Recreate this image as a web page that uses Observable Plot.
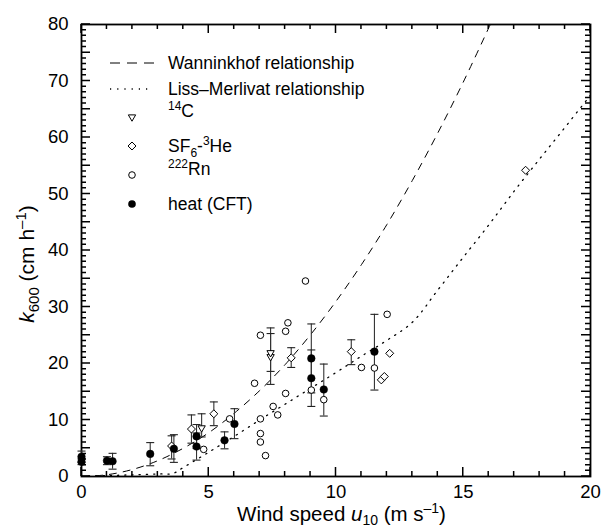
<!DOCTYPE html>
<html>
<head>
<meta charset="utf-8">
<script src="https://cdn.jsdelivr.net/npm/d3@7"></script>
<script src="https://cdn.jsdelivr.net/npm/@observablehq/plot@0.6"></script>
<style>
  html, body { margin: 0; padding: 0; background: #fff; }
  #chart svg { display: block; }
</style>
</head>
<body>
<div id="chart"></div>
<script>
// ---- Relationship curves ----
const wannWind = [0, 1, 2, 3, 4, 5, 6, 7, 8, 9, 10, 11, 12, 13, 14, 15, 16, 16.3];
const wannK    = [0, 0.31, 1.24, 2.8, 5.0, 7.75, 11.2, 15.2, 19.8, 25.1, 31.0, 37.5, 44.6, 52.4, 60.8, 69.8, 79.4, 82.4];

const lmWind = [0, 1, 2, 3, 3.6, 4, 5, 6, 7, 8, 9, 10, 11, 12, 13, 14, 15, 16, 17, 18, 19, 20];
const lmK    = [0, 0.15, 0.3, 0.45, 0.55, 1.6, 4.3, 7.1, 10.0, 12.8, 15.6, 18.4, 21.3, 24.1, 27.3, 33.0, 38.8, 44.5, 50.5, 56.2, 61.8, 67.5];

// ---- heat (CFT): filled circles ----
const heatWind = [0, 0, 1.0, 1.22, 2.7, 3.63, 4.52, 4.52, 5.62, 6.01, 9.03, 9.03, 9.52, 11.51];
const heatK    = [3.5, 2.6, 2.8, 2.7, 4.0, 4.9, 7.1, 5.3, 6.4, 9.3, 20.9, 17.4, 15.4, 22.1];
const heatLo   = [2.5, 2.1, 2.1, 1.3, 1.9, 2.5, 5.0, 2.9, 4.9, 6.7, 14.8, 12.4, 10.7, 15.3];
const heatHi   = [4.5, 3.1, 3.5, 4.1, 6.0, 7.4, 9.2, 7.7, 7.9, 12.0, 27.0, 22.4, 19.9, 28.7];

// ---- 222Rn: open circles ----
const rnWind = [4.8, 5.82, 6.8, 7.03, 7.03, 7.03, 7.03, 7.23, 7.53, 7.71, 8.02, 8.02, 8.11, 8.8, 9.03, 9.52, 11.0, 11.51, 12.01];
const rnK    = [4.8, 10.2, 16.5, 25.0, 10.2, 7.6, 6.1, 3.7, 12.4, 10.9, 14.7, 25.7, 27.2, 34.6, 15.3, 13.6, 19.3, 19.2, 28.7];

// ---- 14C: open down-triangles ----
const c14Wind = [4.72, 7.43, 7.43];
const c14K    = [8.6, 21.2, 21.9];
const c14Lo   = [7.0, 16.3, 18.6];
const c14Hi   = [11.1, 26.3, 25.3];

// ---- SF6-3He: open diamonds ----
const sf6Wind = [3.54, 4.32, 5.2, 8.24, 10.6, 11.78, 11.9, 12.11, 17.45];
const sf6K    = [5.4, 8.4, 11.1, 21.0, 22.1, 17.1, 17.7, 21.8, 54.2];
const sf6Lo   = [3.1, 5.9, 9.0, 19.3, 19.8, null, null, null, null];
const sf6Hi   = [7.2, 10.9, 13.2, 22.8, 24.2, null, null, null, null];

// ---- axis ticks ----
const xTickLabels = [0, 5, 10, 15, 20];
const yTickLabels = [0, 10, 20, 30, 40, 50, 60, 70, 80];
const xMinorTicks = d3.range(0, 21, 1);
const yMinorTicks = d3.range(0, 81, 1);
const xMajorTicks = [0, 5, 10, 15, 20];
const yMajorTicks = d3.range(0, 81, 5);

// ---- build tables ----
const rec = (U, K, L, Hi) => U.map((u, i) => ({u, k: K[i], lo: L ? L[i] : null, hi: Hi ? Hi[i] : null}));
const wann = wannWind.map((u, i) => ({u, k: wannK[i]}));
const lm = lmWind.map((u, i) => ({u, k: lmK[i]}));
const heat = rec(heatWind, heatK, heatLo, heatHi);
const rn = rec(rnWind, rnK);
const c14 = rec(c14Wind, c14K, c14Lo, c14Hi);
const sf6 = rec(sf6Wind, sf6K, sf6Lo, sf6Hi);
const withErr = [...sf6, ...c14, ...heat].filter(d => d.lo != null);

const W = 605, H = 529, mL = 81, mR = 15, mT = 24, mB = 53;
const pw = W - mL - mR, ph = H - mT - mB;
const FONT = "'Liberation Sans', Arial, Helvetica, sans-serif";

// error-bar cap: horizontal segment
const capSymbol = {
  draw(ctx, size) {
    const r = Math.sqrt(size / Math.PI);
    ctx.moveTo(-r, 0); ctx.lineTo(r, 0);
  }
};

const plot = Plot.plot({
  width: W, height: H,
  marginLeft: mL, marginRight: mR, marginTop: mT, marginBottom: mB,
  style: {fontFamily: FONT, fontSize: "18.5px"},
  x: {domain: [0, 20]},
  y: {domain: [0, 80]},
  marks: [
    Plot.frame({stroke: "#000", strokeWidth: 1.8, fill: "none"}),
    Plot.axisX(xTickLabels, {anchor: "bottom", tickSize: 0, tickPadding: 8, label: null}),
    Plot.axisY(yTickLabels, {anchor: "left", tickSize: 0, tickPadding: 13, label: null}),
    // relationships
    Plot.line(wann, {x: "u", y: "k", stroke: "#000", strokeWidth: 1, strokeDasharray: "7,7", curve: "catmull-rom", clip: true}),
    Plot.line(lm, {x: "u", y: "k", stroke: "#000", strokeWidth: 1.3, strokeDasharray: "1.2,6", curve: "catmull-rom", clip: true}),
    // error bars
    Plot.ruleX(withErr, {x: "u", y1: "lo", y2: "hi", stroke: "#333", strokeWidth: 1.1}),
    Plot.dot(withErr, {x: "u", y: "lo", symbol: capSymbol, r: 4, fill: "none", stroke: "#222", strokeWidth: 1.1}),
    Plot.dot(withErr, {x: "u", y: "hi", symbol: capSymbol, r: 4, fill: "none", stroke: "#222", strokeWidth: 1.1}),
    // points
    Plot.dot(rn, {x: "u", y: "k", r: 3.3, fill: "#fff", stroke: "#000", strokeWidth: 1}),
    Plot.dot(sf6, {x: "u", y: "k", symbol: "diamond2", r: 3.6, fill: "#fff", stroke: "#000", strokeWidth: 1}),
    Plot.dot(c14, {x: "u", y: "k", symbol: "triangle2", rotate: 180, r: 3.5, fill: "#fff", stroke: "#000", strokeWidth: 1}),
    Plot.dot(heat, {x: "u", y: "k", r: 3.8, fill: "#000", stroke: "#000", strokeWidth: 0.5})
  ]
});

document.getElementById("chart").appendChild(plot);

const svg = d3.select(plot);

// ---- inward ticks on all four sides, one path, positioned with the plot's scales ----
let fx, fy;
try {
  const sx = plot.scale("x"), sy = plot.scale("y");
  fx = v => sx.apply(v); fy = v => sy.apply(v);
  if (!isFinite(fx(5)) || !isFinite(fy(5))) throw 0;
} catch (e) {
  const lx = d3.scaleLinear([0, 20], [mL, W - mR]), ly = d3.scaleLinear([0, 80], [H - mB, mT]);
  fx = lx; fy = ly;
}
const X0 = fx(0), X1 = fx(20), Y0 = fy(0), Y1 = fy(80);
let d = "";
xMinorTicks.forEach(v => {
  const L = xMajorTicks.includes(v) ? 9 : 5, px = fx(v);
  d += `M${px},${Y0}V${Y0 - L}M${px},${Y1}V${Y1 + L}`;
});
yMinorTicks.forEach(v => {
  const L = yMajorTicks.includes(v) ? 9 : 5, py = fy(v);
  d += `M${X0},${py}H${X0 + L}M${X1},${py}H${X1 - L}`;
});
svg.append("path").attr("d", d).attr("fill", "none").attr("stroke", "black").attr("stroke-width", 1.5);

// ---- axis titles and legend as real SVG text ----
// x title
const xt = svg.append("text")
  .attr("x", mL + pw / 2 + 6).attr("y", 521)
  .attr("text-anchor", "middle")
  .attr("font-family", FONT).attr("font-size", 20.5).attr("fill", "#000");
xt.append("tspan").text("Wind speed ");
xt.append("tspan").attr("font-style", "italic").text("u");
xt.append("tspan").attr("font-size", 14).attr("dy", 4).text("10");
xt.append("tspan").attr("dy", -4).text(" (m s");
xt.append("tspan").attr("font-size", 14).attr("dy", -8).text("\u20131");
xt.append("tspan").attr("dy", 8).text(")");

// y title
const yt = svg.append("text")
  .attr("transform", `translate(34, ${mT + ph / 2 + 14}) rotate(-90)`)
  .attr("text-anchor", "middle")
  .attr("font-family", FONT).attr("font-size", 21).attr("fill", "#000");
yt.append("tspan").attr("font-style", "italic").text("k");
yt.append("tspan").attr("font-size", 15).attr("dy", 5).text("600");
yt.append("tspan").attr("dy", -5).text(" (cm h");
yt.append("tspan").attr("font-size", 15).attr("dy", -8).text("\u20131");
yt.append("tspan").attr("dy", 8).text(")");

// legend
const lg = svg.append("g").attr("font-family", FONT).attr("font-size", 17.5)
  .attr("fill", "#000").attr("text-anchor", "start");
const rowsY = [63, 89, 117, 146, 175, 204];
const textX = 168, symX = 132;

lg.append("line").attr("x1", 110).attr("x2", 155).attr("y1", rowsY[0]).attr("y2", rowsY[0])
  .attr("stroke", "#000").attr("stroke-width", 1).attr("stroke-dasharray", "10,7");
lg.append("line").attr("x1", 110).attr("x2", 152).attr("y1", rowsY[1]).attr("y2", rowsY[1])
  .attr("stroke", "#000").attr("stroke-width", 1.3).attr("stroke-dasharray", "1.2,6");
lg.append("path").attr("transform", `translate(${symX},${rowsY[2]}) rotate(180)`)
  .attr("d", d3.symbol(d3.symbolTriangle2, 3.5 * 3.5 * Math.PI)()).attr("fill", "#fff").attr("stroke", "#000");
lg.append("path").attr("transform", `translate(${symX},${rowsY[3]})`)
  .attr("d", d3.symbol(d3.symbolDiamond2, 3.6 * 3.6 * Math.PI)()).attr("fill", "#fff").attr("stroke", "#000");
lg.append("circle").attr("cx", symX).attr("cy", rowsY[4]).attr("r", 3.3).attr("fill", "#fff").attr("stroke", "#000");
lg.append("circle").attr("cx", symX).attr("cy", rowsY[5]).attr("r", 3.8).attr("fill", "#000");

const t = (i) => lg.append("text").attr("x", textX).attr("y", rowsY[i]).attr("dy", "0.36em");
t(0).text("Wanninkhof relationship");
t(1).text("Liss\u2013Merlivat relationship");
const t2 = t(2);
t2.append("tspan").attr("font-size", 12).attr("dy", -7).text("14");
t2.append("tspan").attr("dy", 7).text("C");
const t3 = t(3);
t3.append("tspan").text("SF");
t3.append("tspan").attr("font-size", 12).attr("dy", 5).text("6");
t3.append("tspan").attr("dy", -5).text("-");
t3.append("tspan").attr("font-size", 12).attr("dy", -7).text("3");
t3.append("tspan").attr("dy", 7).text("He");
const t4 = t(4);
t4.append("tspan").attr("font-size", 12).attr("dy", -7).text("222");
t4.append("tspan").attr("dy", 7).text("Rn");
t(5).text("heat (CFT)");
</script>
</body>
</html>
